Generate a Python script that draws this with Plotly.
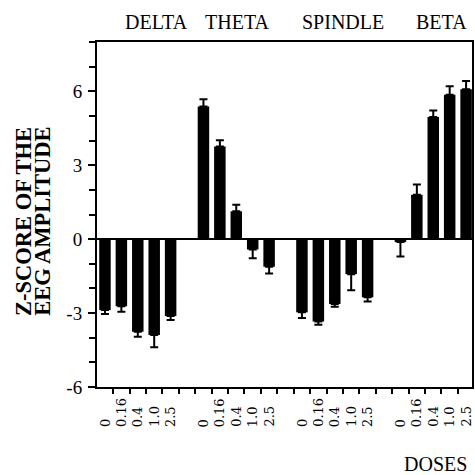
import plotly.graph_objects as go

# ---- data ----
bands = ["DELTA", "THETA", "SPINDLE", "BETA"]
doses = ["0", "0.16", "0.4", "1.0", "2.5"]
delta_vals = [-2.88, -2.72, -3.76, -3.89, -3.12]
delta_err = [0.16, 0.23, 0.20, 0.50, 0.16]
theta_vals = [5.38, 3.76, 1.13, -0.42, -1.12]
theta_err = [0.30, 0.25, 0.27, 0.36, 0.27]
spindle_vals = [-2.97, -3.34, -2.63, -1.42, -2.36]
spindle_err = [0.23, 0.13, 0.11, 0.65, 0.17]
beta_vals = [-0.12, 1.80, 4.96, 5.86, 6.08]
beta_err = [0.58, 0.42, 0.26, 0.34, 0.34]
y_ticks = [-6, -3, 0, 3, 6]
y_title_lines = ["Z-SCORE OF THE", "EEG AMPLITUDE"]
x_title = "DOSES"

all_vals = [delta_vals, theta_vals, spindle_vals, beta_vals]
all_errs = [delta_err, theta_err, spindle_err, beta_err]

# ---- layout geometry ----
W, H = 475, 475
L, R, T, B = 97, 1, 42, 88
PW, PH = W - L - R, H - T - B
SLOT = 6  # 5 bars + 1 gap per band


def px_x(p):
    return (p - L) / PW


def px_y(p):
    return (H - B - p) / PH


xs, ys, up, down = [], [], [], []
for g, (vals, errs) in enumerate(zip(all_vals, all_errs)):
    for i, (v, e) in enumerate(zip(vals, errs)):
        xs.append(g * SLOT + i)
        ys.append(v)
        up.append(e if v >= 0 else 0)
        down.append(e if v < 0 else 0)

fig = go.Figure()
fig.add_trace(go.Bar(
    x=xs, y=ys, width=0.7,
    marker=dict(color="black", line=dict(width=0)),
    error_y=dict(type="data", symmetric=False, array=up, arrayminus=down,
                 color="black", thickness=2, width=4),
))

font_serif = "Liberation Serif, Times New Roman, serif"
ann = []
# dose labels under each bar
for g in range(len(bands)):
    for i, d in enumerate(doses):
        ann.append(dict(x=g * SLOT + i, xref="x", y=px_y(429), yref="paper",
                        text=d, textangle=-90, showarrow=False,
                        xanchor="center", yanchor="bottom",
                        font=dict(family="DejaVu Serif, serif", size=13, color="black")))
# band labels on top
band_px = [157, 238, 344, 443]
for name, p in zip(bands, band_px):
    ann.append(dict(x=px_x(p), xref="paper", y=px_y(21.5), yref="paper",
                    text=name, showarrow=False, xanchor="center", yanchor="middle",
                    font=dict(family=font_serif, size=20, color="black")))
# y title (two lines)
for line, p in zip(y_title_lines, [22.5, 41.5]):
    ann.append(dict(x=px_x(p), xref="paper", y=px_y(221), yref="paper",
                    text="<b>" + line + "</b>", textangle=-90, showarrow=False,
                    xanchor="center", yanchor="middle",
                    font=dict(family=font_serif, size=22.5, color="black")))
# x title
ann.append(dict(x=px_x(437), xref="paper", y=px_y(464), yref="paper",
                text=x_title, showarrow=False, xanchor="center", yanchor="middle",
                font=dict(family=font_serif, size=20, color="black")))

n_slots = len(bands) * SLOT
fig.update_layout(
    width=W, height=H, autosize=False,
    margin=dict(l=L, r=R, t=T, b=B, pad=0),
    plot_bgcolor="white", paper_bgcolor="white",
    showlegend=False,
    annotations=ann,
    xaxis=dict(range=[-0.485, 22.36], tickmode="array",
               tickvals=[i + 0.5 for i in range(n_slots)],
               ticks="outside", ticklen=5, tickwidth=2, tickcolor="black",
               showticklabels=False, showline=True, linewidth=2, linecolor="black",
               mirror=True, showgrid=False, zeroline=False),
    yaxis=dict(range=[-6, 8], tickmode="array", tickvals=y_ticks,
               ticktext=[str(t) for t in y_ticks],
               ticks="outside", ticklen=7, tickwidth=2, tickcolor="black",
               ticklabelstandoff=2,
               tickfont=dict(family=font_serif, size=19, color="black"),
               minor=dict(tickmode="linear", tick0=0, dtick=1, ticks="outside",
                          ticklen=6, tickwidth=2, tickcolor="black", showgrid=False),
               showline=True, linewidth=2, linecolor="black", mirror=True,
               showgrid=False, zeroline=True, zerolinecolor="black", zerolinewidth=2),
)

post = ("document.documentElement.style.margin='0';"
        "document.body.style.margin='0';"
        "document.body.style.padding='0';"
        "document.body.style.overflow='hidden';"
        "Plotly.relayout(document.getElementById('{plot_id}'), {width: 475, height: 475});")

fig.write_html("out.html", post_script=post, config={"displayModeBar": False})
